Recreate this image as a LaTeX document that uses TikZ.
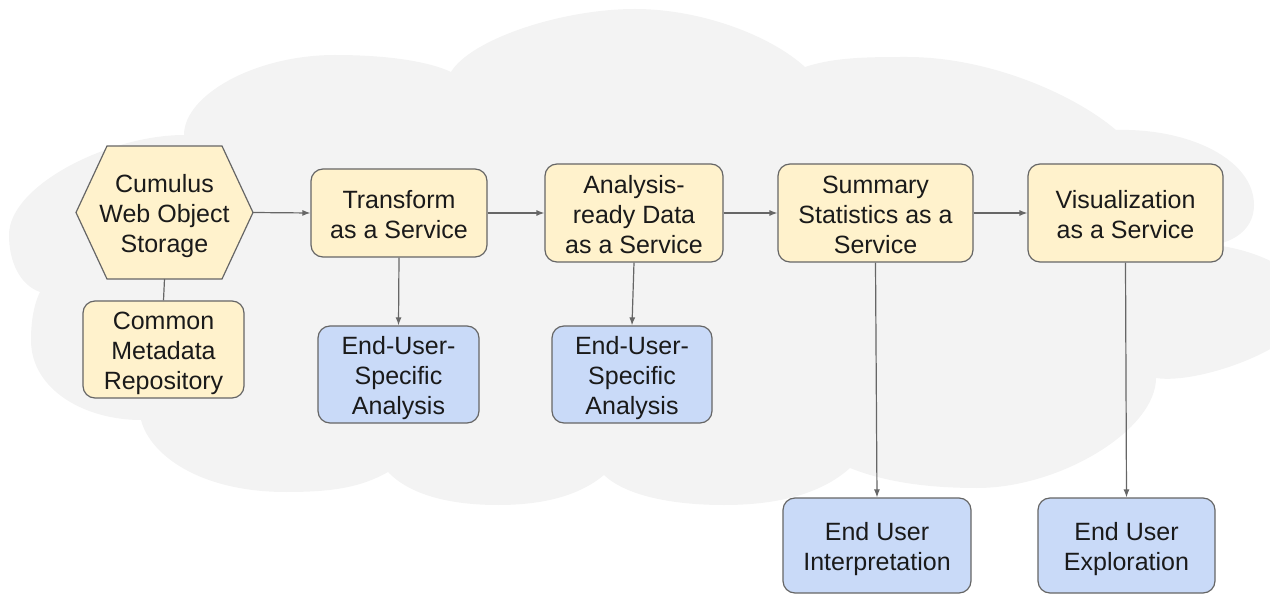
\documentclass[tikz,border=0pt]{standalone}
\usepackage{fontspec}
\setmainfont{Liberation Sans}
\usetikzlibrary{arrows.meta}
\definecolor{cloudgray}{HTML}{F3F3F3}
\definecolor{boxyellow}{HTML}{FFF2CC}
\definecolor{boxblue}{HTML}{C9DAF8}
\definecolor{edgegray}{HTML}{666666}
\definecolor{txtcol}{HTML}{1A1A1A}
\newcommand\mytopst{\rule{0pt}{26.9bp}}
\newcommand\mybotst{\rule[-6bp]{0pt}{6bp}}
\begin{document}
\begin{tikzpicture}[x=1bp,y=-1bp,
  every node/.style={font=\fontsize{25bp}{30bp}\selectfont, text=txtcol, align=center, inner sep=0pt},
  ybox/.style={draw=edgegray, line width=1.2bp, fill=boxyellow, rounded corners=12bp},
  bbox/.style={draw=edgegray, line width=1.2bp, fill=boxblue, rounded corners=12bp},
  conn/.style={draw=edgegray, line width=1.2bp},
  arr/.style={conn, -{Latex[length=8bp,width=6bp]}},
  hexbox/.style={minimum width=180bp, minimum height=136bp, outer sep=-1.5bp,
    path picture={
      \filldraw[draw=edgegray, line width=1.2bp, fill=boxyellow]
        ([xshift=32.5bp,yshift=-1.5bp]path picture bounding box.north west)
        -- ([xshift=-32.5bp,yshift=-1.5bp]path picture bounding box.north east)
        -- ([xshift=-1.5bp]path picture bounding box.east)
        -- ([xshift=-32.5bp,yshift=1.5bp]path picture bounding box.south east)
        -- ([xshift=32.5bp,yshift=1.5bp]path picture bounding box.south west)
        -- ([xshift=1.5bp]path picture bounding box.west)
        -- cycle;
    }}
]
\useasboundingbox (0,0) rectangle (1270,595);
\clip (0,0) rectangle (1270,595);
% cloud background
\fill[cloudgray] (40,292)
 .. controls (20,285) and (9,262) .. (9,235)
 .. controls (9,185) and (110,135) .. (184,135)
 .. controls (184,95) and (255,55) .. (335,55)
 .. controls (390,55) and (430,62) .. (451,72)
 .. controls (470,40) and (560,9) .. (635,9)
 .. controls (700,9) and (770,35) .. (805,67)
 .. controls (835,57) and (870,57) .. (907,57)
 .. controls (990,57) and (1075,95) .. (1116,130)
 .. controls (1190,128) and (1254,160) .. (1254,205)
 .. controls (1254,225) and (1240,240) .. (1214,245)
 .. controls (1260,250) and (1310,275) .. (1310,305)
 .. controls (1310,345) and (1200,385) .. (1156,378)
 .. controls (1156,430) and (1060,488) .. (977,488)
 .. controls (920,488) and (880,480) .. (850,468)
 .. controls (820,495) and (775,505) .. (724,505)
 .. controls (670,505) and (625,495) .. (604,475)
 .. controls (580,495) and (545,505) .. (498,505)
 .. controls (450,505) and (410,495) .. (388,472)
 .. controls (360,488) and (330,492) .. (286,492)
 .. controls (200,492) and (150,455) .. (141,420)
 .. controls (85,420) and (31,390) .. (31,340)
 .. controls (31,315) and (36,300) .. cycle;

% nodes
\node[hexbox] (cws) at (164.5,212.5) {\mytopst Cumulus\\Web Object\\Storage\mybotst};
\node[ybox, minimum width=176bp, minimum height=88bp] (tr) at (399,213) {\mytopst Transform\\as a Service\mybotst};
\node[ybox, minimum width=178bp, minimum height=98bp] (ard) at (634,213) {\mytopst Analysis-\\ready Data\\as a Service\mybotst};
\node[ybox, minimum width=195bp, minimum height=98bp] (sum) at (875.5,213) {\mytopst Summary\\Statistics as a\\Service\mybotst};
\node[ybox, minimum width=195bp, minimum height=98bp] (vis) at (1125.5,213) {\mytopst Visualization\\as a Service\mybotst};
\node[ybox, minimum width=161bp, minimum height=97bp] (cmr) at (163.5,349.5) {\mytopst Common\\Metadata\\Repository\mybotst};
\node[bbox, minimum width=161bp, minimum height=97bp] (eua) at (398.5,374.5) {\mytopst End-User-\\Specific\\Analysis\mybotst};
\node[bbox, minimum width=160bp, minimum height=97bp] (eub) at (632,374.5) {\mytopst End-User-\\Specific\\Analysis\mybotst};
\node[bbox, minimum width=188bp, minimum height=95bp] (eui) at (877,545.5) {\mytopst End User\\Interpretation\mybotst};
\node[bbox, minimum width=177bp, minimum height=95bp] (eue) at (1126.5,545.5) {\mytopst End User\\Exploration\mybotst};

% connectors
\draw[arr] (cws.east) -- (tr.west);
\draw[arr] (tr.east) -- (ard.west);
\draw[arr] (ard.east) -- (sum.west);
\draw[arr] (sum.east) -- (vis.west);
\draw[conn] (cws.south) -- (cmr.north);
\draw[arr] (tr.south) -- (eua.north);
\draw[arr] (ard.south) -- (eub.north);
\draw[arr] (sum.south) -- (eui.north);
\draw[arr] (vis.south) -- (eue.north);
\end{tikzpicture}
\end{document}
